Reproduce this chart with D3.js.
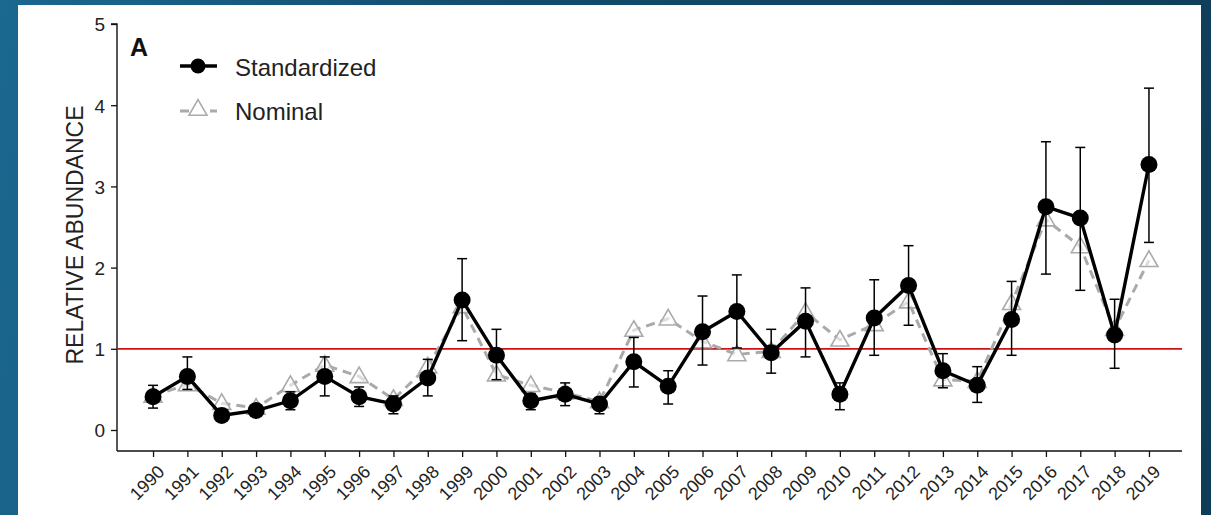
<!DOCTYPE html>
<html>
<head>
<meta charset="utf-8">
<script src="https://cdn.jsdelivr.net/npm/d3@7"></script>
<style>
  html, body { margin: 0; padding: 0; }
  body { width: 1211px; height: 515px; overflow: hidden;
         background: linear-gradient(100deg, #1b6890 0%, #124b6c 40%, #0f3d58 100%); }
  svg { display: block; font-family: "Liberation Sans", Arial, sans-serif; }
</style>
</head>
<body>
<svg id="canvas"></svg>
<script>
// years on the x axis
const years = [1990, 1991, 1992, 1993, 1994, 1995, 1996, 1997, 1998, 1999,
  2000, 2001, 2002, 2003, 2004, 2005, 2006, 2007, 2008, 2009,
  2010, 2011, 2012, 2013, 2014, 2015, 2016, 2017, 2018, 2019];
// standardized index and its error bars
const standardized = [0.41, 0.66, 0.18, 0.24, 0.36, 0.66, 0.41, 0.32, 0.64, 1.60,
  0.92, 0.36, 0.44, 0.32, 0.84, 0.54, 1.21, 1.46, 0.95, 1.34,
  0.44, 1.38, 1.78, 0.73, 0.55, 1.36, 2.75, 2.61, 1.17, 3.27];
const stdUpper = [0.55, 0.90, 0.24, 0.31, 0.47, 0.90, 0.53, 0.42, 0.87, 2.11,
  1.24, 0.45, 0.58, 0.40, 1.14, 0.73, 1.65, 1.91, 1.24, 1.75,
  0.58, 1.85, 2.27, 0.94, 0.78, 1.83, 3.55, 3.48, 1.61, 4.21];
const stdLower = [0.27, 0.50, 0.12, 0.18, 0.25, 0.42, 0.29, 0.20, 0.42, 1.10,
  0.62, 0.25, 0.30, 0.20, 0.53, 0.32, 0.80, 1.01, 0.70, 0.90,
  0.25, 0.92, 1.29, 0.52, 0.34, 0.92, 1.92, 1.72, 0.76, 2.31];
// nominal index
const nominal = [0.42, 0.56, 0.33, 0.27, 0.55, 0.80, 0.66, 0.38, 0.78, 1.52,
  0.68, 0.55, 0.46, 0.35, 1.23, 1.37, 1.09, 0.93, 0.97, 1.45,
  1.11, 1.30, 1.58, 0.62, 0.60, 1.56, 2.59, 2.26, 1.24, 2.09];
const yTicks = [0, 1, 2, 3, 4, 5];
const reference = 1;

const w = 1211;
const h = 515;
const font = '"Liberation Sans", Arial, sans-serif';

const svg = d3.select('#canvas').attr('width', w).attr('height', h);

// white panel
svg.append('rect').attr('x', 18).attr('y', 5).attr('width', 1183).attr('height', 515).attr('fill', '#fff');

const x = d3.scaleLinear().domain([1989, 2020]).range([118.7, 1183.3]);
const y = d3.scaleLinear().domain([0, 5]).range([430, 24]);

const rows = years.map((yr, i) => ({
  year: yr, s: standardized[i], hi: stdUpper[i], lo: stdLower[i], n: nominal[i]
}));

// axes
const yAxis = d3.axisLeft(y).tickValues(yTicks).tickSize(6).tickPadding(6).tickFormat(d3.format('d'));
const gy = svg.append('g').attr('transform', 'translate(117,0)').call(yAxis);
gy.select('.domain').attr('d', 'M-6,' + y(5) + 'H0V451').attr('stroke', '#111').attr('stroke-width', 1.4);
gy.selectAll('.tick line').attr('stroke', '#111').attr('stroke-width', 1.3);
gy.selectAll('.tick text').attr('font-size', 19).attr('fill', '#222').attr('font-family', font).attr('dy', '0.36em');

const xAxis = d3.axisBottom(x).tickValues(years).tickSize(6).tickFormat(d3.format('d'));
const gx = svg.append('g').attr('transform', 'translate(0,451)').call(xAxis);
gx.select('.domain').attr('d', 'M117,0H1182').attr('stroke', '#111').attr('stroke-width', 1.4);
gx.selectAll('.tick line').attr('stroke', '#111').attr('stroke-width', 1.3);
gx.selectAll('.tick text')
  .attr('font-size', 18).attr('fill', '#222').attr('font-family', font)
  .attr('text-anchor', 'end').attr('dy', 0).attr('y', 0)
  .attr('transform', 'translate(12,22) rotate(-45)');

// y title
svg.append('text')
  .attr('transform', 'translate(83,235) rotate(-90)')
  .attr('text-anchor', 'middle')
  .attr('font-size', 23).attr('fill', '#222')
  .text('RELATIVE ABUNDANCE');

// panel letter
svg.append('text').attr('x', 130).attr('y', 56).attr('font-size', 25).attr('font-weight', 'bold').attr('fill', '#111').text('A');

// reference line
svg.append('line')
  .attr('x1', 117).attr('x2', 1182).attr('y1', y(reference)).attr('y2', y(reference))
  .attr('stroke', '#cc1414').attr('stroke-width', 1.8);

// nominal series
const grey = '#aaaaaa';
svg.append('path').datum(rows)
  .attr('fill', 'none').attr('stroke', grey).attr('stroke-width', 3).attr('stroke-dasharray', '9,6')
  .attr('d', d3.line().x(d => x(d.year)).y(d => y(d.n)));

const tri = d3.symbol().type(d3.symbolTriangle).size(140);
svg.selectAll('.nom').data(rows).enter().append('path')
  .attr('class', 'nom')
  .attr('transform', d => 'translate(' + x(d.year) + ',' + (y(d.n) + 1) + ')')
  .attr('d', tri).attr('fill', '#fff').attr('fill-opacity', 0.6).attr('stroke', grey).attr('stroke-width', 1.6);

// error bars
const bars = svg.selectAll('.err').data(rows).enter().append('g').attr('class', 'err').attr('stroke', '#000').attr('stroke-width', 1.5);
bars.append('line').attr('x1', d => x(d.year)).attr('x2', d => x(d.year)).attr('y1', d => y(d.hi)).attr('y2', d => y(d.lo));
bars.append('line').attr('x1', d => x(d.year) - 5).attr('x2', d => x(d.year) + 5).attr('y1', d => y(d.hi)).attr('y2', d => y(d.hi));
bars.append('line').attr('x1', d => x(d.year) - 5).attr('x2', d => x(d.year) + 5).attr('y1', d => y(d.lo)).attr('y2', d => y(d.lo));

// standardized series
svg.append('path').datum(rows)
  .attr('fill', 'none').attr('stroke', '#000').attr('stroke-width', 3.4)
  .attr('d', d3.line().x(d => x(d.year)).y(d => y(d.s)));
svg.selectAll('.std').data(rows).enter().append('circle')
  .attr('class', 'std')
  .attr('cx', d => x(d.year)).attr('cy', d => y(d.s)).attr('r', 8.5).attr('fill', '#000');

// legend
const legend = svg.append('g');
legend.append('line').attr('x1', 180).attr('x2', 217).attr('y1', 66).attr('y2', 66).attr('stroke', '#000').attr('stroke-width', 3.4);
legend.append('circle').attr('cx', 198).attr('cy', 66).attr('r', 7.5).attr('fill', '#000');
legend.append('text').attr('x', 235).attr('y', 76).attr('font-size', 24).attr('fill', '#222').text('Standardized');
legend.append('line').attr('x1', 180).attr('x2', 217).attr('y1', 111).attr('y2', 111).attr('stroke', grey).attr('stroke-width', 3).attr('stroke-dasharray', '9,6');
legend.append('path').attr('transform', 'translate(198,110)').attr('d', tri).attr('fill', '#fff').attr('stroke', grey).attr('stroke-width', 1.6);
legend.append('text').attr('x', 235).attr('y', 120).attr('font-size', 24).attr('fill', '#222').text('Nominal');
</script>
</body>
</html>
